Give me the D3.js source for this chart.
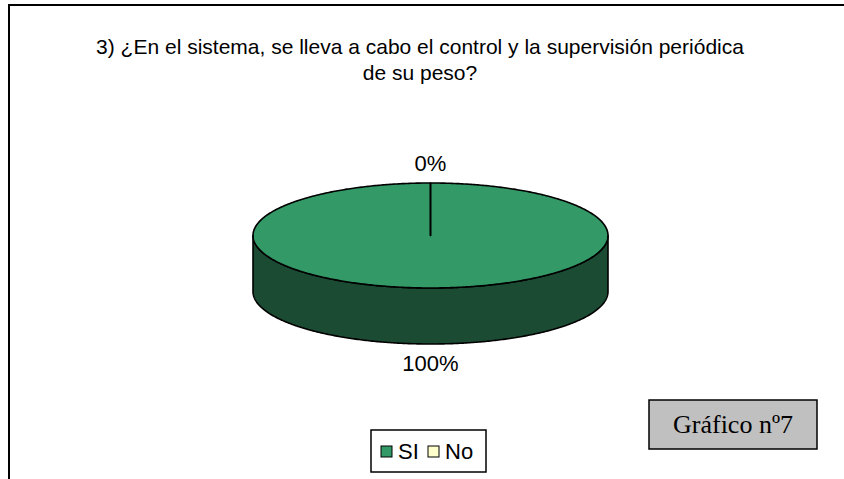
<!DOCTYPE html>
<html>
<head>
<meta charset="utf-8">
<script src="https://cdn.jsdelivr.net/npm/d3@7"></script>
<style>
  html, body { margin: 0; padding: 0; background: #fff; }
  svg { display: block; }
</style>
</head>
<body>
<svg id="chart" width="844" height="479"></svg>
<script>
// Answers and their shares (percent)
const categories = ["SI", "No"];
const values = [100, 0];
const valueLabels = ["100%", "0%"];
const titleLines = [
  "3) ¿En el sistema, se lleva a cabo el control y la supervisión periódica",
  "de su peso?"
];
const badgeText = "Gráfico nº7";

const topColors = ["#339966", "#FFFFCC"];
const sideColors = ["#1C4B33", "#7F7F66"];

const W = 844, H = 479;
const sans = "Liberation Sans, Arial, sans-serif";
const svg = d3.select("#chart");

// outer frame (runs past the right and bottom edges)
svg.append("rect")
  .attr("x", 9).attr("y", 5)
  .attr("width", W + 10).attr("height", H + 10)
  .attr("fill", "#fff").attr("stroke", "#000").attr("stroke-width", 2);

// title
const title = svg.append("text")
  .attr("text-anchor", "middle")
  .attr("font-family", sans)
  .attr("font-size", 21)
  .attr("fill", "#000");
titleLines.forEach((t, i) => {
  title.append("tspan").attr("x", 420).attr("y", 54 + i * 26).text(t);
});

// 3D pie geometry
const cx = 430.5, cy = 235.5, rx = 177.5, ry = 52.5, depth = 56;
const pie = d3.pie().sort(null).value(d => d)(values);

const pt = (a, dy = 0) => [cx + rx * Math.sin(a), cy - ry * Math.cos(a) + dy];
const sample = (a0, a1) => {
  const n = Math.max(2, Math.ceil(Math.abs(a1 - a0) / 0.01));
  return d3.range(n + 1).map(i => a0 + (a1 - a0) * i / n);
};
const line = d3.line();

const g = svg.append("g")
  .attr("stroke", "#000").attr("stroke-width", 1.6).attr("stroke-linejoin", "round");

// front walls: only the part of each slice between 90° and 270° faces the viewer
pie.forEach((s, i) => {
  const a0 = Math.max(s.startAngle, Math.PI / 2);
  const a1 = Math.min(s.endAngle, 3 * Math.PI / 2);
  if (a1 <= a0) return;
  const angles = sample(a0, a1);
  const pts = angles.map(a => pt(a)).concat(angles.slice().reverse().map(a => pt(a, depth)));
  g.append("path")
    .attr("d", line(pts) + "Z")
    .attr("fill", sideColors[i]);
});

// top faces
pie.forEach((s, i) => {
  const pts = [[cx, cy]].concat(sample(s.startAngle, s.endAngle).map(a => pt(a)));
  g.append("path")
    .attr("d", line(pts) + "Z")
    .attr("fill", topColors[i]);
});

// percentage labels outside each slice
pie.forEach((s, i) => {
  const mid = (s.startAngle + s.endAngle) / 2;
  const front = Math.cos(mid) < 0;
  const lrx = rx + 16, lry = ry + 16;
  const x = cx + lrx * Math.sin(mid);
  const y = cy - lry * Math.cos(mid) + (front ? depth + 3 : -4);
  svg.append("text")
    .attr("x", x).attr("y", y)
    .attr("text-anchor", "middle")
    .attr("dominant-baseline", "central")
    .attr("font-family", sans)
    .attr("font-size", 22)
    .text(valueLabels[i]);
});

// legend
const lg = svg.append("g");
lg.append("rect")
  .attr("x", 371).attr("y", 430).attr("width", 115).attr("height", 42)
  .attr("fill", "#fff").attr("stroke", "#000").attr("stroke-width", 1.5);
const legendX = d3.scaleOrdinal().domain(categories).range([381, 428]);
categories.forEach((c, i) => {
  const x = legendX(c);
  lg.append("rect")
    .attr("x", x).attr("y", 446).attr("width", 11).attr("height", 11)
    .attr("fill", topColors[i]).attr("stroke", "#000").attr("stroke-width", 1);
  lg.append("text")
    .attr("x", x + 17).attr("y", 459)
    .attr("font-family", sans)
    .attr("font-size", 22)
    .text(c);
});

// figure badge
svg.append("rect")
  .attr("x", 649).attr("y", 400).attr("width", 168).attr("height", 49)
  .attr("fill", "#C0C0C0").attr("stroke", "#000").attr("stroke-width", 1.5);
svg.append("text")
  .attr("x", 733).attr("y", 433)
  .attr("text-anchor", "middle")
  .attr("font-family", "Liberation Serif, Times New Roman, serif")
  .attr("font-size", 26)
  .text(badgeText);
</script>
</body>
</html>
